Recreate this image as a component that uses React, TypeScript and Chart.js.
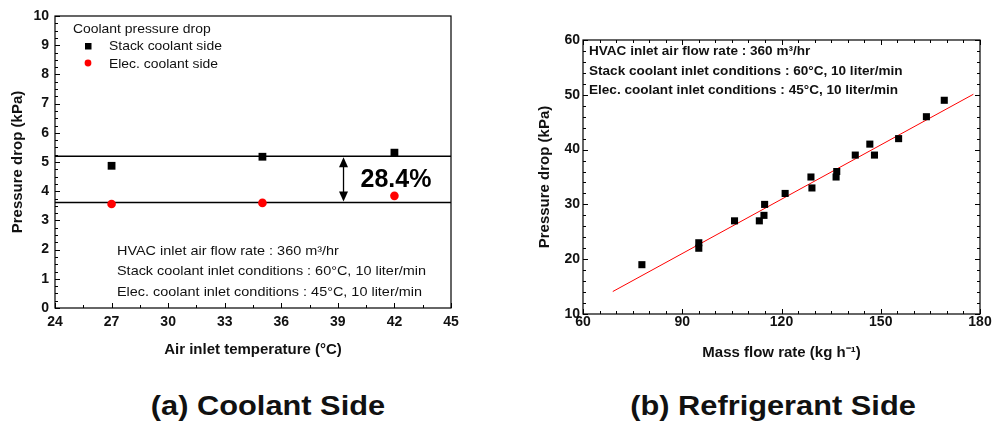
import React, { useEffect, useRef } from 'react';
import { Chart, registerables } from 'chart.js';

Chart.register(...registerables);

const FONT = '"Liberation Sans", Arial, Helvetica, sans-serif';
const STRETCH = 1.1;

// ---------- (a) Coolant side ----------
const airTemps = [27, 35, 42];
const stackDrop = [4.87, 5.18, 5.32];
const elecDrop = [3.56, 3.6, 3.84];
const stackLevel = 5.2;
const elecLevel = 3.61;
const leftXRange = [24, 45];
const leftYRange = [0, 10];
const arrowTemp = 39.3;
const reductionLabel = '28.4%';
const leftLegendTitle = 'Coolant pressure drop';
const leftSeriesNames = ['Stack coolant side', 'Elec. coolant side'];
const conditionLines = [
  'HVAC inlet air flow rate : 360 m\u00B3/hr',
  'Stack coolant inlet conditions : 60\u00B0C, 10 liter/min',
  'Elec. coolant inlet conditions : 45\u00B0C, 10 liter/min',
];

// ---------- (b) Refrigerant side ----------
const massFlow = [77.8, 95, 95, 105.8, 113.3, 114.7, 114.9, 121.1, 128.9, 129.2, 136.5, 136.7, 142.3, 146.7, 148.1, 155.4, 163.8, 169.2];
const refDrop = [19, 23, 22, 27, 27, 28, 30, 32, 35, 33, 35, 36, 39, 41, 39, 42, 46, 49];
const fitX = [69, 178];
const fitY = [14.1, 50.1];
const rightXRange = [60, 180];
const rightYRange = [10, 60];

const captions = ['(a) Coolant Side', '(b) Refrigerant Side'];

type TickCfg = { xMajor: number; xMinor: number; yMajor: number; yMinor: number; mirror: boolean };

function stretchedText(ctx: CanvasRenderingContext2D, t: string, x: number, y: number, k = STRETCH) {
  ctx.save();
  ctx.translate(x, y);
  ctx.scale(k, 1);
  ctx.fillText(t, 0, 0);
  ctx.restore();
}

const frameTicksPlugin = (cfg: TickCfg) => ({
  id: 'frameTicks',
  afterDraw(chart: any) {
    const { ctx, chartArea: a, scales } = chart;
    const x = scales.x;
    const y = scales.y;
    ctx.save();
    ctx.strokeStyle = '#000';
    ctx.lineWidth = 1.2;
    ctx.strokeRect(a.left, a.top, a.right - a.left, a.bottom - a.top);
    ctx.lineWidth = 1;
    ctx.beginPath();
    const isMajor = (v: number, m: number) => Math.abs(v / m - Math.round(v / m)) < 1e-6;
    for (let v = x.min; v <= x.max + 1e-9; v += cfg.xMinor) {
      const px = Math.round(x.getPixelForValue(v)) + 0.5;
      const len = isMajor(v, cfg.xMajor) ? 5 : 3;
      ctx.moveTo(px, a.bottom);
      ctx.lineTo(px, a.bottom - len);
      if (cfg.mirror) {
        ctx.moveTo(px, a.top);
        ctx.lineTo(px, a.top + len);
      }
    }
    for (let v = y.min; v <= y.max + 1e-9; v += cfg.yMinor) {
      const py = Math.round(y.getPixelForValue(v)) + 0.5;
      const len = isMajor(v, cfg.yMajor) ? 5 : 3;
      ctx.moveTo(a.left, py);
      ctx.lineTo(a.left + len, py);
      if (cfg.mirror) {
        ctx.moveTo(a.right, py);
        ctx.lineTo(a.right - len, py);
      }
    }
    ctx.stroke();
    ctx.restore();
  },
});

const leftAnnotations = {
  id: 'leftAnnotations',
  afterDraw(chart: any) {
    const { ctx, chartArea: a, scales } = chart;
    const x = scales.x;
    const y = scales.y;
    ctx.save();
    ctx.fillStyle = '#111';
    ctx.textBaseline = 'middle';
    ctx.textAlign = 'left';
    ctx.font = `13px ${FONT}`;
    // legend
    stretchedText(ctx, leftLegendTitle, a.left + 18, a.top + 13, 1.07);
    ctx.fillStyle = '#000';
    ctx.fillRect(a.left + 30, a.top + 27, 6.5, 6.5);
    ctx.fillStyle = '#111';
    stretchedText(ctx, leftSeriesNames[0], a.left + 54, a.top + 30, 1.07);
    ctx.fillStyle = '#ff0000';
    ctx.beginPath();
    ctx.arc(a.left + 33, a.top + 47, 3.4, 0, Math.PI * 2);
    ctx.fill();
    ctx.fillStyle = '#111';
    stretchedText(ctx, leftSeriesNames[1], a.left + 54, a.top + 48, 1.07);
    // conditions
    conditionLines.forEach((t, i) => stretchedText(ctx, t, a.left + 62, a.top + 235 + i * 20.5, 1.11));
    // arrow
    const ax = x.getPixelForValue(arrowTemp);
    const y1 = y.getPixelForValue(stackLevel);
    const y2 = y.getPixelForValue(elecLevel);
    ctx.strokeStyle = '#000';
    ctx.fillStyle = '#000';
    ctx.lineWidth = 1.3;
    ctx.beginPath();
    ctx.moveTo(ax, y1 + 6);
    ctx.lineTo(ax, y2 - 6);
    ctx.stroke();
    ctx.beginPath();
    ctx.moveTo(ax, y1 + 1);
    ctx.lineTo(ax - 4.5, y1 + 11);
    ctx.lineTo(ax + 4.5, y1 + 11);
    ctx.closePath();
    ctx.fill();
    ctx.beginPath();
    ctx.moveTo(ax, y2 - 1);
    ctx.lineTo(ax - 4.5, y2 - 11);
    ctx.lineTo(ax + 4.5, y2 - 11);
    ctx.closePath();
    ctx.fill();
    ctx.font = `bold 25px ${FONT}`;
    ctx.fillText(reductionLabel, ax + 17, (y1 + y2) / 2 + 1);
    ctx.restore();
  },
};

const rightAnnotations = {
  id: 'rightAnnotations',
  afterDraw(chart: any) {
    const { ctx, chartArea: a } = chart;
    ctx.save();
    ctx.fillStyle = '#111';
    ctx.textBaseline = 'middle';
    ctx.textAlign = 'left';
    ctx.font = `bold 12px ${FONT}`;
    conditionLines.forEach((t, i) => stretchedText(ctx, t, a.left + 6, a.top + 12 + i * 19.5, 1.13));
    ctx.restore();
  },
};

function axis(min: number, max: number, step: number, title: string, opts: any) {
  return {
    type: 'linear',
    min,
    max,
    border: { display: false },
    grid: { display: false, drawTicks: false },
    ticks: {
      stepSize: step,
      color: '#111',
      font: { family: FONT, size: 14, weight: 'bold' },
      padding: opts.tickPad,
      autoSkip: false,
      maxRotation: 0,
    },
    title: {
      display: true,
      text: title,
      color: '#111',
      font: { family: FONT, size: 15, weight: 'bold' },
      padding: opts.titlePad,
    },
    afterFit: opts.afterFit,
  };
}

function LeftChart() {
  const ref = useRef<HTMLCanvasElement | null>(null);
  useEffect(() => {
    if (!ref.current) return;
    const chart = new Chart(ref.current, {
      type: 'scatter',
      data: {
        datasets: [
          {
            label: leftSeriesNames[0],
            data: airTemps.map((t, i) => ({ x: t, y: stackDrop[i] })),
            pointStyle: 'rect',
            pointRadius: 5.5,
            backgroundColor: '#000',
            borderWidth: 0,
          },
          {
            label: leftSeriesNames[1],
            data: airTemps.map((t, i) => ({ x: t, y: elecDrop[i] })),
            pointStyle: 'circle',
            pointRadius: 4.3,
            backgroundColor: '#ff0000',
            borderWidth: 0,
          },
          {
            label: 'stack level',
            data: leftXRange.map((t) => ({ x: t, y: stackLevel })),
            showLine: true,
            pointRadius: 0,
            borderColor: '#000',
            borderWidth: 1.5,
          },
          {
            label: 'elec level',
            data: leftXRange.map((t) => ({ x: t, y: elecLevel })),
            showLine: true,
            pointRadius: 0,
            borderColor: '#000',
            borderWidth: 1.5,
          },
        ],
      } as any,
      options: {
        responsive: false,
        animation: false,
        events: [],
        layout: { padding: { left: 0, right: 45, top: 16, bottom: 0 } },
        plugins: { legend: { display: false }, tooltip: { enabled: false } },
        scales: {
          x: axis(leftXRange[0], leftXRange[1], 3, 'Air inlet temperature (\u00B0C)', {
            tickPad: 5.5,
            titlePad: { top: 0, bottom: 11 },
            afterFit: (s: any) => { s.height = 62; },
          }),
          y: axis(leftYRange[0], leftYRange[1], 1, 'Pressure drop (kPa)', {
            tickPad: 6,
            titlePad: { top: 9, bottom: 0 },
            afterFit: (s: any) => { s.width = 55; },
          }),
        } as any,
      },
      plugins: [frameTicksPlugin({ xMajor: 3, xMinor: 1.5, yMajor: 1, yMinor: 0.25, mirror: false }), leftAnnotations],
    });
    return () => chart.destroy();
  }, []);
  return <canvas ref={ref} width={496} height={370} style={{ position: 'absolute', left: 0, top: 0, width: 496, height: 370 }} />;
}

function RightChart() {
  const ref = useRef<HTMLCanvasElement | null>(null);
  useEffect(() => {
    if (!ref.current) return;
    const chart = new Chart(ref.current, {
      type: 'scatter',
      data: {
        datasets: [
          {
            label: 'Measured',
            data: massFlow.map((m, i) => ({ x: m, y: refDrop[i] })),
            pointStyle: 'rect',
            pointRadius: 5,
            backgroundColor: '#000',
            borderWidth: 0,
          },
          {
            label: 'Fit',
            data: fitX.map((m, i) => ({ x: m, y: fitY[i] })),
            showLine: true,
            pointRadius: 0,
            borderColor: '#ff0000',
            borderWidth: 1,
          },
        ],
      } as any,
      options: {
        responsive: false,
        animation: false,
        events: [],
        layout: { padding: { left: 0, right: 12, top: 40, bottom: 0 } },
        plugins: { legend: { display: false }, tooltip: { enabled: false } },
        scales: {
          x: axis(rightXRange[0], rightXRange[1], 30, 'Mass flow rate (kg h\u207B\u00B9)', {
            tickPad: 0,
            titlePad: { top: 0, bottom: 8 },
            afterFit: (s: any) => { s.height = 56; },
          }),
          y: axis(rightYRange[0], rightYRange[1], 10, 'Pressure drop (kPa)', {
            tickPad: 3,
            titlePad: { top: 40, bottom: 0 },
            afterFit: (s: any) => { s.width = 87; },
          }),
        } as any,
      },
      plugins: [frameTicksPlugin({ xMajor: 30, xMinor: 5, yMajor: 10, yMinor: 2, mirror: true }), rightAnnotations],
    });
    return () => chart.destroy();
  }, []);
  return <canvas ref={ref} width={496} height={370} style={{ position: 'absolute', left: 496, top: 0, width: 496, height: 370 }} />;
}

export default function App() {
  const capStyle: React.CSSProperties = {
    position: 'absolute',
    top: 390,
    width: 400,
    textAlign: 'center',
    fontFamily: FONT,
    fontWeight: 'bold',
    fontSize: 27,
    lineHeight: '32px',
    color: '#111',
    whiteSpace: 'nowrap',
    transform: 'scaleX(1.14)',
    transformOrigin: 'center',
  };
  return (
    <div style={{ position: 'fixed', left: 0, top: 0, width: 992, height: 423, background: '#fff', overflow: 'hidden' }}>
      <LeftChart />
      <RightChart />
      <div style={{ ...capStyle, left: 268 - 200 }}>{captions[0]}</div>
      <div style={{ ...capStyle, left: 773 - 200 }}>{captions[1]}</div>
    </div>
  );
}
